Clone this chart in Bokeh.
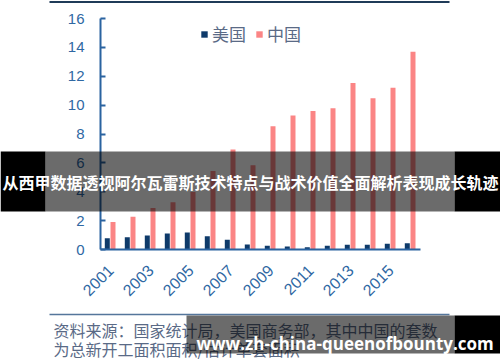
import math
from bokeh.plotting import figure
from bokeh.models import Range1d, FixedTicker, Legend, LegendItem, Label, BoxAnnotation, ColumnDataSource
from bokeh.transform import dodge
from bokeh.embed import file_html
from bokeh.resources import INLINE

# ---- data ----
years = list(range(2001, 2017))
usa = [0.78, 0.85, 0.97, 1.11, 1.18, 0.92, 0.67, 0.35, 0.26, 0.21, 0.16, 0.26, 0.33, 0.33, 0.40, 0.44]
china = [1.90, 2.27, 2.87, 3.28, 3.98, 5.44, 6.92, 5.83, 8.54, 9.28, 9.60, 9.79, 11.53, 10.47, 11.20, 13.70]
tick_years = [2001, 2003, 2005, 2007, 2009, 2011, 2013, 2015]
y_ticks = [0, 2, 4, 6, 8, 10, 12, 14, 16]
series_names = ["美国", "中国"]
banner_text = "从西甲数据透视阿尔瓦雷斯技术特点与战术价值全面解析表现成长轨迹"
source_lines = ["资料来源：国家统计局，美国商务部，其中中国的套数", "为总新开工面积面积/估计单套面积"]
watermark = "www.zh-china-queenofbounty.com"

# ---- layout (frame = whole canvas; axes drawn at fixed locations) ----
W, H = 500, 362
AX_X, AX_Y = 100, 249        # pixel position of y axis line / x axis line
PX_PER_YEAR = 20.0
PX_PER_UNIT = 231.0 / 16.0

x0 = 2000.5 - AX_X / PX_PER_YEAR
y1 = AX_Y / PX_PER_UNIT
y0 = -(H - AX_Y) / PX_PER_UNIT

US_COLOR = "#0e3a6a"
CN_COLOR = "#fb8585"
AXIS_COLOR = "#2a63a0"
LABEL_COLOR = "#2f68a3"
TEXT_COLOR = "#5a6a86"

p = figure(width=W, height=H, x_range=Range1d(x0, x0 + W / PX_PER_YEAR), y_range=Range1d(y0, y1),
           output_backend="svg", toolbar_location=None,
           min_border_left=0, min_border_right=0, min_border_top=0, min_border_bottom=0)
p.background_fill_color = "white"
p.border_fill_color = "white"
p.outline_line_color = None
p.grid.visible = False

src = ColumnDataSource(dict(year=years, usa=usa, china=china))
r_us = p.vbar(x=dodge("year", -0.16), top="usa", width=0.25, source=src,
              fill_color=US_COLOR, line_color=None)
r_cn = p.vbar(x=dodge("year", 0.125), top="china", width=0.25, source=src,
              fill_color=CN_COLOR, line_color=None)

# axes
ya = p.yaxis[0]
ya.fixed_location = 2000.5
ya.bounds = (y_ticks[0], y_ticks[-1])
ya.ticker = FixedTicker(ticks=y_ticks)
ya.axis_line_color = AXIS_COLOR
ya.axis_line_width = 2
ya.major_tick_line_color = AXIS_COLOR
ya.major_tick_line_width = 2
ya.major_tick_in = 5
ya.major_tick_out = 0
ya.minor_tick_line_color = None
ya.major_label_text_font = "Liberation Sans"
ya.major_label_text_font_size = "15px"
ya.major_label_text_color = LABEL_COLOR
ya.major_label_standoff = 16

xa = p.xaxis[0]
xa.fixed_location = 0
xa.bounds = (years[0] - 0.5, years[-1] + 0.5)
xa.ticker = FixedTicker(ticks=tick_years)
xa.axis_line_color = AXIS_COLOR
xa.axis_line_width = 2
xa.major_tick_line_color = None
xa.major_tick_in = 0
xa.major_tick_out = 0
xa.minor_tick_line_color = None
xa.major_label_orientation = math.pi / 4
xa.major_label_text_font = "Liberation Sans"
xa.major_label_text_font_size = "16px"
xa.major_label_text_color = LABEL_COLOR
xa.major_label_standoff = 18

legend = Legend(items=[LegendItem(label=series_names[0], renderers=[r_us]),
                       LegendItem(label=series_names[1], renderers=[r_cn])],
                orientation="horizontal", location=(200, H - 46),
                glyph_width=8, glyph_height=8, label_standoff=4, spacing=9,
                padding=0, margin=0, border_line_color=None, background_fill_alpha=0,
                label_text_font="Noto Sans CJK SC", label_text_font_size="17px",
                label_text_color=TEXT_COLOR)
p.add_layout(legend)

# ---- overlays, positioned in pixels converted to data units ----
def px_x(X):
    return x0 + X / PX_PER_YEAR

def px_y(Y):
    return (AX_Y - Y) / PX_PER_UNIT

def box(xa_, xb_, ya_, yb_, color, alpha):
    p.add_layout(BoxAnnotation(left=px_x(xa_), right=px_x(xb_), top=px_y(ya_), bottom=px_y(yb_),
                               fill_color=color, fill_alpha=alpha, line_color=None, level="overlay"))

# top rule and source separator
box(49, 449, 0.5, 2.5, "#1f3b58", 1.0)
box(49, 449, 313.3, 314.8, "#55769b", 1.0)
for i, line in enumerate(source_lines):
    p.add_layout(Label(x=px_x(53), y=px_y(329 + 19 * i), text=line, text_baseline="middle",
                       text_font="Noto Sans CJK SC", text_font_size="16px",
                       text_color=TEXT_COLOR, level="overlay"))

# middle banner
box(0, 45, 151, 211, "black", 1.0)
box(454, 500, 151, 211, "black", 1.0)
box(45, 454, 151, 211, "black", 0.58)
p.add_layout(Label(x=px_x(250), y=px_y(181), text=banner_text, text_align="center",
                   text_baseline="middle", text_font="Noto Sans CJK SC", text_font_style="bold",
                   text_font_size="16px", text_color="white", level="overlay"))

# bottom-right watermark
box(186, 454, 315, 353, "black", 0.58)
box(454, 500, 315, 353, "black", 1.0)
p.add_layout(Label(x=px_x(196), y=px_y(343), text=watermark, text_align="left",
                   text_baseline="alphabetic", text_font="Open Sans", text_font_style="bold",
                   text_font_size="17px", text_color="white", level="overlay"))

open("out.html", "w").write(file_html(p, INLINE))
